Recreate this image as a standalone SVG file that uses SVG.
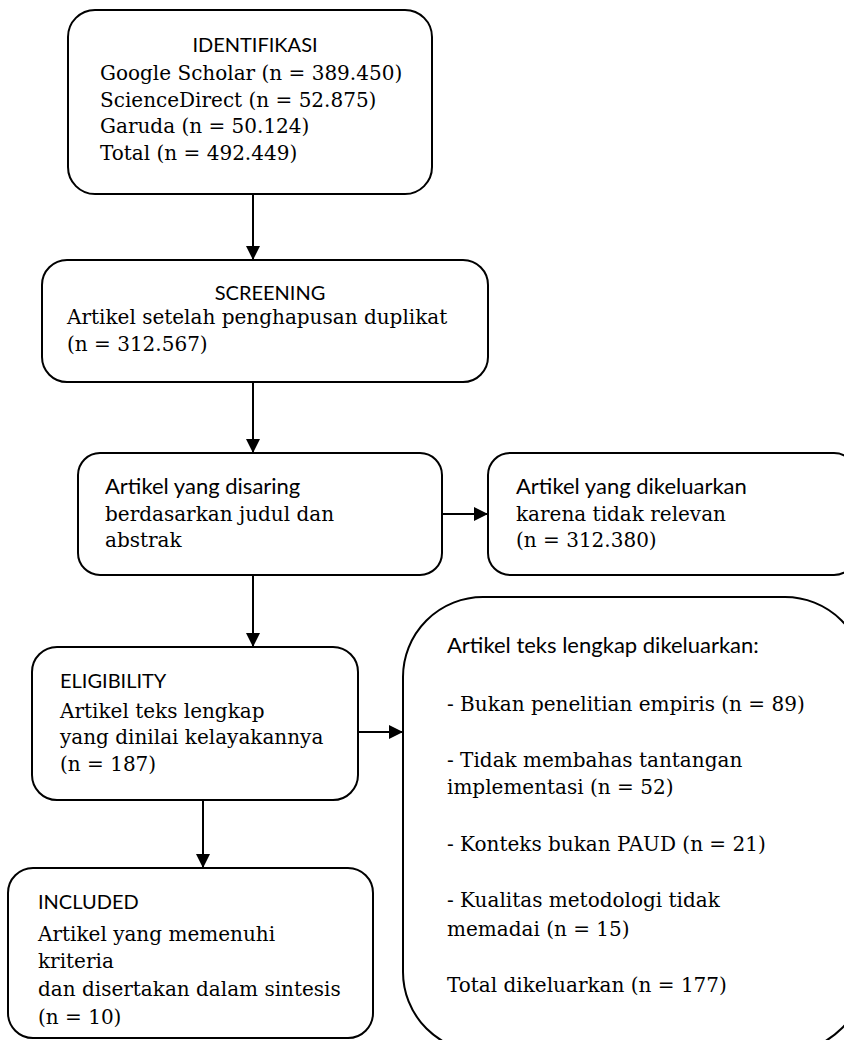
<svg xmlns="http://www.w3.org/2000/svg" width="844" height="1040" viewBox="0 0 844 1040">
<style>
.box{fill:#fff;stroke:#000;stroke-width:2}
.sans{font-family:Lato,"Liberation Sans",sans-serif;font-size:22px;fill:#000}
.hd{font-family:Lato,"Liberation Sans",sans-serif;font-size:20px;fill:#000}
.serif{font-family:"DejaVu Serif","Liberation Serif",serif;font-size:20px;fill:#000}
.con{stroke:#000;stroke-width:2;fill:none;marker-end:url(#ah)}
</style>
<defs>
<marker id="ah" markerUnits="userSpaceOnUse" markerWidth="16" markerHeight="16" refX="14" refY="7" orient="auto">
<path d="M0,0 L14,7 L0,14 z" fill="#000"/>
</marker>
</defs>
<rect width="844" height="1040" fill="#fff"/>
<g id="connectors">
<line class="con" x1="253" y1="194" x2="253" y2="260"/>
<line class="con" x1="253" y1="382" x2="253" y2="453"/>
<line class="con" x1="442" y1="514" x2="488" y2="514"/>
<line class="con" x1="253" y1="575" x2="253" y2="647"/>
<line class="con" x1="358" y1="732" x2="403" y2="732"/>
<line class="con" x1="203" y1="800" x2="203" y2="868"/>
</g>
<g id="identifikasi">
<rect class="box" x="68" y="10" width="364" height="184" rx="27"/>
<text class="hd" x="255" y="52" text-anchor="middle">IDENTIFIKASI</text>
<text class="serif" x="100" y="80">Google Scholar (n = 389.450)</text>
<text class="serif" x="100" y="107">ScienceDirect (n = 52.875)</text>
<text class="serif" x="100" y="133">Garuda (n = 50.124)</text>
<text class="serif" x="100" y="160">Total (n = 492.449)</text>
</g>
<g id="screening">
<rect class="box" x="42" y="260" width="446" height="122" rx="25"/>
<text class="hd" x="270" y="300" text-anchor="middle">SCREENING</text>
<text class="serif" x="67" y="324">Artikel setelah penghapusan duplikat</text>
<text class="serif" x="67" y="351">(n = 312.567)</text>
</g>
<g id="disaring">
<rect class="box" x="78" y="453" width="364" height="122" rx="22"/>
<text class="sans" x="105" y="494">Artikel yang disaring</text>
<text class="serif" x="105" y="521">berdasarkan judul dan</text>
<text class="serif" x="105" y="547">abstrak</text>
</g>
<g id="dikeluarkan">
<rect class="box" x="488" y="453" width="368" height="122" rx="22"/>
<text class="sans" x="516" y="494">Artikel yang dikeluarkan</text>
<text class="serif" x="516" y="521">karena tidak relevan</text>
<text class="serif" x="516" y="547">(n = 312.380)</text>
</g>
<g id="eligibility">
<rect class="box" x="32" y="647" width="326" height="153" rx="25"/>
<text class="hd" x="60" y="688">ELIGIBILITY</text>
<text class="serif" x="60" y="718">Artikel teks lengkap</text>
<text class="serif" x="60" y="744">yang dinilai kelayakannya</text>
<text class="serif" x="60" y="771">(n = 187)</text>
</g>
<g id="excluded">
<rect class="box" x="403" y="597" width="462" height="455" rx="80"/>
<text class="sans" x="447" y="653">Artikel teks lengkap dikeluarkan:</text>
<text class="serif" x="447" y="711">- Bukan penelitian empiris (n = 89)</text>
<text class="serif" x="447" y="767">- Tidak membahas tantangan</text>
<text class="serif" x="447" y="794">implementasi (n = 52)</text>
<text class="serif" x="447" y="851">- Konteks bukan PAUD (n = 21)</text>
<text class="serif" x="447" y="907">- Kualitas metodologi tidak</text>
<text class="serif" x="447" y="936">memadai (n = 15)</text>
<text class="serif" x="447" y="992">Total dikeluarkan (n = 177)</text>
</g>
<g id="included">
<rect class="box" x="8" y="868" width="365" height="170" rx="25"/>
<text class="hd" x="38" y="909">INCLUDED</text>
<text class="serif" x="38" y="941">Artikel yang memenuhi</text>
<text class="serif" x="38" y="968">kriteria</text>
<text class="serif" x="38" y="996">dan disertakan dalam sintesis</text>
<text class="serif" x="38" y="1024">(n = 10)</text>
</g>
</svg>
